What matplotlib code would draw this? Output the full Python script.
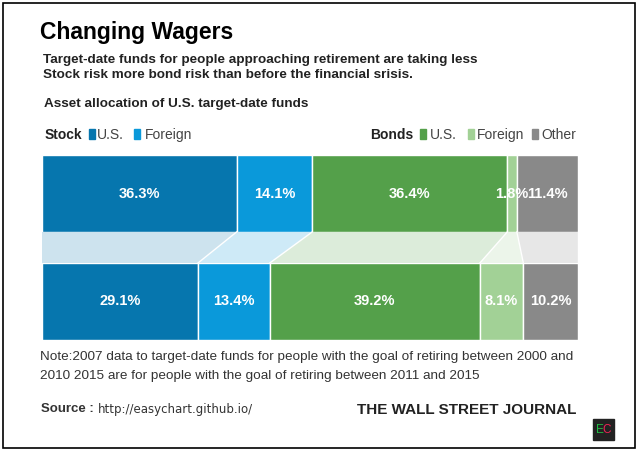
import matplotlib
matplotlib.use("Agg")
import matplotlib.pyplot as plt
from matplotlib.patches import Rectangle, Polygon

plt.rcParams['font.family'] = ['Liberation Sans', 'DejaVu Sans']

# data
categories = ["Stock U.S.", "Stock Foreign", "Bonds U.S.", "Bonds Foreign", "Other"]
share_2007 = [36.3, 14.1, 36.4, 1.8, 11.4]
share_2015 = [29.1, 13.4, 39.2, 8.1, 10.2]
colors = ["#0676ae", "#0a99da", "#54a04a", "#a2d196", "#898989"]

W, H = 640, 454
fig = plt.figure(figsize=(W / 100, H / 100), dpi=100)

# overlay in pixel coords for text and frame
ov = fig.add_axes([0, 0, 1, 1])
ov.set_xlim(0, W)
ov.set_ylim(H, 0)
ov.axis("off")

ov.add_patch(Rectangle((3, 3), 632, 445, fill=False, edgecolor="black", lw=1.2))

ov.text(40, 32, "Changing Wagers", fontsize=16.5, fontweight="bold", va="center")
ov.text(43, 60, "Target-date funds for people approaching retirement are taking less",
        fontsize=9.7, fontweight="bold", va="center", color="#222222")
ov.text(43, 75, "Stock risk more bond risk than before the financial srisis.",
        fontsize=9.7, fontweight="bold", va="center", color="#222222")
ov.text(44, 104, "Asset allocation of U.S. target-date funds",
        fontsize=9.7, fontweight="bold", va="center", color="#222222")

# legend row
ov.text(45, 135, "Stock", fontsize=10, fontweight="bold", va="center", color="#222222")
ov.add_patch(Rectangle((89, 129), 6, 10, color=colors[0]))
ov.text(97, 135, "U.S.", fontsize=10, va="center", color="#444444")
ov.add_patch(Rectangle((134, 129), 6, 10, color=colors[1]))
ov.text(145, 135, "Foreign", fontsize=10, va="center", color="#444444")
ov.text(370, 135, "Bonds", fontsize=10, fontweight="bold", va="center", color="#222222")
ov.add_patch(Rectangle((420, 129), 6, 10, color=colors[2]))
ov.text(430, 135, "U.S.", fontsize=10, va="center", color="#444444")
ov.add_patch(Rectangle((468, 129), 6, 10, color=colors[3]))
ov.text(477, 135, "Foreign", fontsize=10, va="center", color="#444444")
ov.add_patch(Rectangle((532, 129), 6, 10, color=colors[4]))
ov.text(541, 135, "Other", fontsize=10, va="center", color="#444444")

# note / source
ov.text(40, 357, "Note:2007 data to target-date funds for people with the goal of retiring between 2000 and",
        fontsize=9.7, va="center", color="#333333")
ov.text(40, 376, "2010 2015 are for people with the goal of retiring between 2011 and 2015",
        fontsize=9.7, va="center", color="#333333")
ov.text(41, 409, "Source :", fontsize=9.5, fontweight="bold", va="center", color="#333333")
ov.text(98, 409, "http://easychart.github.io/", fontsize=8.5, va="center", color="#333333",
        family=["DejaVu Sans"])
ov.text(576, 410, "THE WALL STREET JOURNAL", fontsize=11, fontweight="bold", va="center",
        ha="right", color="#222222")

# logo
ov.add_patch(Rectangle((593, 419), 21, 21, color="#222222"))
ov.text(599.5, 430, "E", color="#22bb44", fontsize=8.5, ha="center", va="center")
ov.text(607, 430, "C", color="#ee2255", fontsize=8.5, ha="center", va="center")

# bars
ax = fig.add_axes([42 / W, 1 - 340 / H, 536 / W, 185 / H])
h = 0.713
rows = [share_2007, share_2015]
for r, vals in enumerate(rows):
    left = 0
    for v, c in zip(vals, colors):
        ax.barh(r, v, left=left, height=h, color=c, edgecolor="white", lw=1)
        ax.text(left + v / 2, r, f"{v}%", color="white", fontsize=10.5, fontweight="bold",
                ha="center", va="center")
        left += v

# connecting band
lt, lb = 0, 0
for a, b, c in zip(share_2007, share_2015, colors):
    poly = Polygon([(lt, h / 2), (lt + a, h / 2), (lb + b, 1 - h / 2), (lb, 1 - h / 2)],
                   closed=True, facecolor=c, alpha=0.2, edgecolor="none")
    ax.add_patch(poly)
    ax.plot([lt + a, lb + b], [h / 2, 1 - h / 2], color="white", lw=1)
    lt += a
    lb += b

ax.set_xlim(0, 100)
ax.set_ylim(1 + h / 2, -h / 2)
ax.axis("off")

fig.savefig("out.png", dpi=100)
